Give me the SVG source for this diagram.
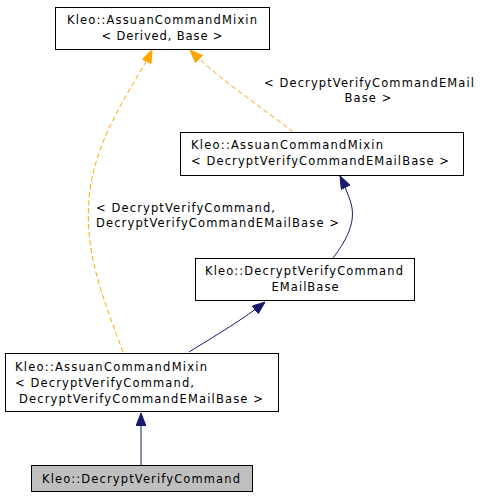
<svg xmlns="http://www.w3.org/2000/svg" width="484" height="499" viewBox="0 0 484 499">
<style>
.node rect{fill:#ffffff;stroke:#000000;stroke-width:1}
.node.cur rect{fill:#bfbfbf}
text{font-family:"DejaVu Sans","Liberation Sans",sans-serif;font-size:11.5px;fill:#000000}
.blue{fill:none;stroke:#191970;stroke-width:1}
.orange{fill:none;stroke:#ffa500;stroke-width:1;stroke-dasharray:5,3}
</style>
<defs>
<marker id="ab" viewBox="0 0 13 10" refX="13" refY="5" markerWidth="13" markerHeight="10" markerUnits="userSpaceOnUse" orient="auto">
<path d="M0,0 L13,5 L0,10 z" fill="#191970" stroke="#191970" stroke-width="1"/>
</marker>
<marker id="ao" viewBox="0 0 13 10" refX="13" refY="5" markerWidth="13" markerHeight="10" markerUnits="userSpaceOnUse" orient="auto">
<path d="M0,0 L13,5 L0,10 z" fill="#ffa500" stroke="#ffa500" stroke-width="1"/>
</marker>
</defs>
<rect width="484" height="499" fill="#ffffff"/>
<g id="connectors">
<path class="blue" d="M141,465 L141,413" marker-end="url(#ab)"/>
<path class="blue" d="M189,352 C215,336 245,318 265,302" marker-end="url(#ab)"/>
<path class="blue" d="M333,258 C345,242 358,222 350,200 C347,192 344,184 340,176" marker-end="url(#ab)"/>
<path class="orange" d="M293,132 C260,106 220,80 190,50" marker-end="url(#ao)"/>
<path class="orange" d="M123,352 C104,300 82,250 90,190 C98,130 138,80 152,50" marker-end="url(#ao)"/>
<text x="369" y="87" text-anchor="middle" textLength="210" lengthAdjust="spacing">&lt; DecryptVerifyCommandEMail</text>
<text x="368" y="102" text-anchor="middle" textLength="47" lengthAdjust="spacing">Base &gt;</text>
<text x="96" y="212" textLength="179" lengthAdjust="spacing">&lt; DecryptVerifyCommand,</text>
<text x="96" y="227" textLength="243" lengthAdjust="spacing">DecryptVerifyCommandEMailBase &gt;</text>
</g>
<g id="node-mixin-derived-base" class="node">
<rect x="55.5" y="7.5" width="214" height="42"/>
<text x="162" y="23.5" text-anchor="middle" textLength="190" lengthAdjust="spacing">Kleo::AssuanCommandMixin</text>
<text x="162" y="39.5" text-anchor="middle" textLength="121" lengthAdjust="spacing">&lt; Derived, Base &gt;</text>
</g>
<g id="node-mixin-emailbase" class="node">
<rect x="180.5" y="132.5" width="283" height="43"/>
<text x="191" y="148.5" textLength="192" lengthAdjust="spacing">Kleo::AssuanCommandMixin</text>
<text x="191" y="164.5" textLength="258" lengthAdjust="spacing">&lt; DecryptVerifyCommandEMailBase &gt;</text>
</g>
<g id="node-emailbase" class="node">
<rect x="195.5" y="258.5" width="219" height="42"/>
<text x="304" y="274.5" text-anchor="middle" textLength="198" lengthAdjust="spacing">Kleo::DecryptVerifyCommand</text>
<text x="305" y="290.5" text-anchor="middle" textLength="67" lengthAdjust="spacing">EMailBase</text>
</g>
<g id="node-mixin-command" class="node">
<rect x="5.5" y="353.5" width="273" height="58"/>
<text x="15" y="370.5" textLength="192" lengthAdjust="spacing">Kleo::AssuanCommandMixin</text>
<text x="15" y="386.5" textLength="179" lengthAdjust="spacing">&lt; DecryptVerifyCommand,</text>
<text x="19" y="402.5" textLength="244" lengthAdjust="spacing">DecryptVerifyCommandEMailBase &gt;</text>
</g>
<g id="node-command" class="node cur">
<rect x="31.5" y="465.5" width="221" height="26"/>
<text x="42" y="483" textLength="198" lengthAdjust="spacing">Kleo::DecryptVerifyCommand</text>
</g>
</svg>
